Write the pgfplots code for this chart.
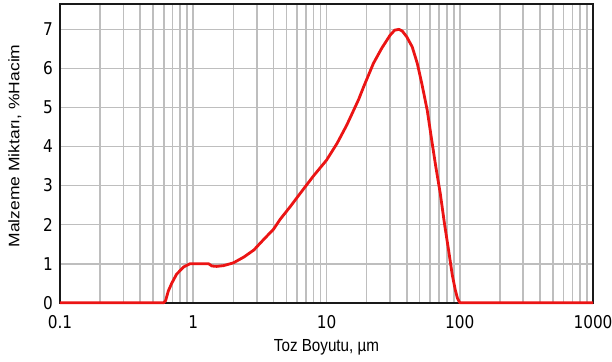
\documentclass[border=0pt]{standalone}
\usepackage{pgfplots}
\pgfplotsset{compat=1.18}
\usepackage{fontspec}
\setmainfont{Liberation Sans}
\newfontfamily\tickfont{DejaVu Sans}

\definecolor{curvered}{RGB}{235,20,20}
\definecolor{gridgray}{RGB}{190,190,190}
\definecolor{framegray}{RGB}{25,25,25}

\begin{document}
\begin{tikzpicture}
\useasboundingbox (-60pt,-58.3pt) rectangle (552pt,302.7pt);
\begin{axis}[
  scale only axis,
  width=533pt, height=298.7pt,
  xmode=log,
  xmin=0.1, xmax=1000,
  ymin=0, ymax=7.65,
  xtick={0.1,1,10,100,1000},
  xticklabels={0.1,1,10,100,1000},
  minor xtick={0.2,0.3,0.4,0.5,0.6,0.7,0.8,0.9,
               2,3,4,5,6,7,8,9,
               20,30,40,50,60,70,80,90,
               200,300,400,500,600,700,800,900},
  ytick={0,1,2,3,4,5,6,7},
  xmajorgrids=true, xminorgrids=true, ymajorgrids=true,
  major grid style={gridgray, line width=1.7pt},
  minor grid style={gridgray, line width=1.7pt},
  major tick length=0pt, minor tick length=0pt,
  axis line style={framegray, line width=2pt},
  /pgf/number format/assume math mode=true,
  tick label style={font={\fontsize{15.3}{18}\tickfont}},
  xticklabel style={anchor=base, inner sep=0pt, yshift=-25.6pt, yscale=1.15},
  yticklabel style={anchor=east, inner sep=0pt, xshift=-7pt, yscale=1.15},
  every axis x label/.style={at={(axis description cs:0.5,-0.1617)}, anchor=base,
    font={\fontsize{15.2}{18}\selectfont}, yscale=1.15},
  every axis y label/.style={at={(axis description cs:-0.076,0.5246)}, anchor=base,
    rotate=90, xscale=1.15, font={\fontsize{15.2}{18}\selectfont}},
  xlabel={Toz Boyutu, µm},
  ylabel={Malzeme Miktarı, \%Hacim},
  clip=false,
]
\addplot[curvered, line width=2.8pt, line join=round] coordinates {
  (0.1,0) (0.60,0) (0.62,0.05) (0.65,0.3) (0.69,0.5) (0.75,0.73)
  (0.85,0.92) (0.95,1.0) (1.0,1.0) (1.3,1.0) (1.38,0.94) (1.5,0.93)
  (1.69,0.95) (2.0,1.02) (2.4,1.17) (2.85,1.35) (3.4,1.63) (4.0,1.88)
  (4.5,2.14) (5.4,2.48) (6.35,2.80) (8.0,3.25) (10,3.65) (12,4.08)
  (14.2,4.55) (17.4,5.2) (19,5.53) (22.5,6.13) (26,6.52) (30,6.85)
  (32.5,6.98) (35,7.0) (37,6.96) (40,6.81) (44,6.55) (48,6.13)
  (52,5.6) (57,4.93) (62,4.1) (66,3.5) (71.4,2.80) (77,2.0)
  (82.4,1.35) (88,0.7) (92.5,0.33) (96,0.12) (100,0) (1000,0)
};
\end{axis}
\end{tikzpicture}
\end{document}
